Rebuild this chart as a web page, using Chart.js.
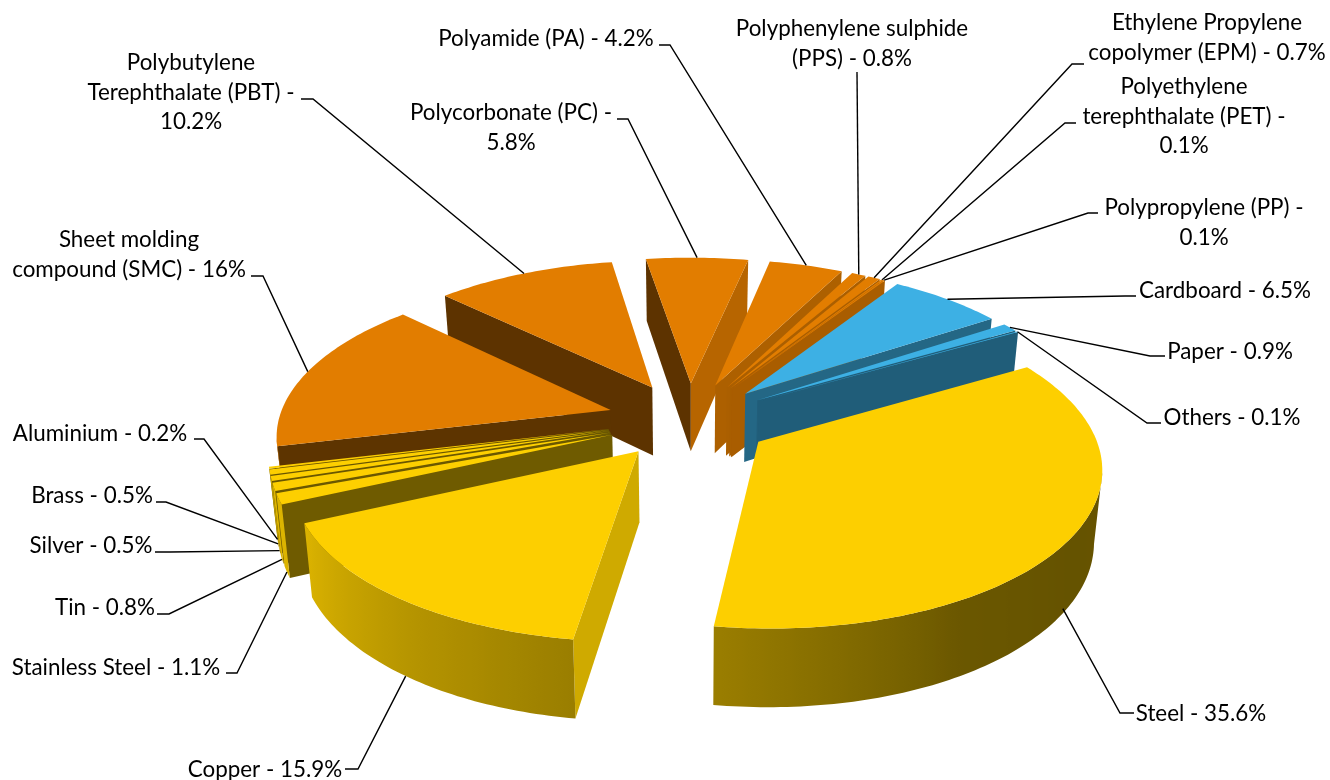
<!DOCTYPE html>
<html>
<head>
<meta charset="utf-8">
<title>Material share</title>
<script src="https://cdn.jsdelivr.net/npm/chart.js@4"></script>
<style>
  html, body { margin: 0; padding: 0; background: #fff; }
  canvas { display: block; }
</style>
</head>
<body>
<canvas id="materialsChart" width="1330" height="780"></canvas>
<script>
// Chart values, clockwise from the steel slice
var categories = ['Steel', 'Copper', 'Stainless Steel', 'Tin', 'Silver', 'Brass', 'Aluminium',
    'Sheet molding compound (SMC)', 'Polybutylene Terephthalate (PBT)', 'Polycorbonate (PC)',
    'Polyamide (PA)', 'Polyphenylene sulphide (PPS)', 'Ethylene Propylene copolymer (EPM)',
    'Polyethylene terephthalate (PET)', 'Polypropylene (PP)', 'Cardboard', 'Paper', 'Others'];
var values = [35.6, 15.9, 1.1, 0.8, 0.5, 0.5, 0.2, 16, 10.2, 5.8, 4.2, 0.8, 0.7, 0.1, 0.1, 6.5, 0.9, 0.1];
var sliceColors = ['#FDCF00', '#FDCF00', '#FDCF00', '#FDCF00', '#FDCF00', '#FDCF00', '#FDCF00',
    '#E27D00', '#E27D00', '#E27D00', '#E27D00', '#E27D00', '#E27D00', '#E27D00', '#E27D00',
    '#3DB0E4', '#3DB0E4', '#3DB0E4'];

// Label layout: word index of each line break, centre x, first line y, leader elbow and label end
var labelBreaks = [[], [], [], [], [], [], [], [2], [1, 4], [3], [], [2], [2], [1, 4], [3], [], [], []];
var labelX = [1201, 265, 116, 105, 91, 92, 100, 129, 191, 511, 546, 852, 1207, 1184, 1204, 1225, 1230, 1232];
var labelY = [714, 770, 668, 608, 546, 496, 434, 240, 63, 113, 39, 29, 23, 87, 208, 291, 352, 418];
var leaderElbows = [[1120, 713], [358, 769], [237, 673], [169, 614], [170, 552], [166, 502], [204, 439],
    [263, 276], [313, 99], [628, 119], [670, 45], [857, 72], [1072, 64], [1065, 123], [1088, 213],
    [1125, 296], [1150, 356], [1147, 423]];
var leaderEnds = [[1134, 713], [345, 769], [226, 673], [157, 614], [155, 552], [156, 502], [194, 439],
    [251, 276], [301, 99], [617, 119], [659, 45], [857, 72], [1084, 64], [1076, 123], [1098, 213],
    [1136, 296], [1165, 356], [1161, 423]];
var leaderDepth = [0.93, 1, 1, 1, 1, 1, 1, 0, 0, 0, 0, 0, 0, 0, 0, 0, 0, 0];

// Perspective settings for the tilted pie
var TILT = 0.462;
var CAMERA = 2325;
var DEPTH = 69.5;
var BOTTOM_SHRINK = 0.02;

// Brightness of the walls by the compass direction they face
var rimShade = [[0, 0.42], [125, 0.40], [150, 0.42], [186, 0.6], [215, 0.72], [245, 0.87], [270, 0.9], [360, 0.9]];
var cutShade = [[0, 0.82], [99, 0.82], [125, 0.74], [147, 0.58], [156, 0.43], [168, 0.41], [360, 0.41]];

function shadeAt(table, deg) {
    deg = ((deg % 360) + 360) % 360;
    for (var i = 1; i < table.length; i++) {
        if (deg <= table[i][0]) {
            var t = (deg - table[i - 1][0]) / (table[i][0] - table[i - 1][0]);
            return table[i - 1][1] + (table[i][1] - table[i - 1][1]) * t;
        }
    }
    return table[table.length - 1][1];
}

function darken(hex, k) {
    var n = parseInt(hex.slice(1), 16);
    return 'rgb(' + Math.round((n >> 16) * k) + ',' + Math.round(((n >> 8) & 255) * k) + ',' + Math.round((n & 255) * k) + ')';
}

// Slice geometry comes from the arc element, only the projection is added here
function sliceGeometry(el) {
    var p = el.getProps(['x', 'y', 'startAngle', 'endAngle', 'outerRadius'], true);
    var mid = (p.startAngle + p.endAngle) / 2;
    var ox = Math.cos(mid) * el.options.offset;
    var oy = Math.sin(mid) * el.options.offset;
    function at(angle, r, z) {
        var u = ox + Math.cos(angle) * r;
        var v = oy + Math.sin(angle) * r;
        var s = CAMERA / (CAMERA - v);
        return {
            x: p.x + u * s * (1 - BOTTOM_SHRINK * z),
            y: p.y + TILT * v * s + DEPTH * Math.pow(s, 0.7) * z
        };
    }
    return { start: p.startAngle, end: p.endAngle, mid: mid, r: p.outerRadius, at: at, depthKey: Math.sin(mid) };
}

function fillPath(ctx, pts, fill) {
    ctx.beginPath();
    ctx.moveTo(pts[0].x, pts[0].y);
    for (var i = 1; i < pts.length; i++) {
        ctx.lineTo(pts[i].x, pts[i].y);
    }
    ctx.closePath();
    ctx.fillStyle = fill;
    ctx.fill();
}

function drawCut(ctx, g, fromApex, angle, color) {
    var a = fromApex ? g.at(0, 0, 0) : g.at(angle, g.r, 0);
    var b = fromApex ? g.at(angle, g.r, 0) : g.at(0, 0, 0);
    // walls only show where the top edge runs right to left on screen
    if (b.x >= a.x) return;
    fillPath(ctx, [g.at(0, 0, 0), g.at(angle, g.r, 0), g.at(angle, g.r, 1), g.at(0, 0, 1)], color);
}

function drawRim(ctx, g, color, steps) {
    var tops = [], bottoms = [], stops = [];
    for (var i = 0; i <= steps; i++) {
        var a = g.start + (g.end - g.start) * i / steps;
        var next = g.at(a + 0.001, g.r, 0);
        var here = g.at(a, g.r, 0);
        if (next.x < here.x) {
            tops.push(here);
            bottoms.unshift(g.at(a, g.r, 1));
            stops.push({ x: here.x, k: shadeAt(rimShade, a * 180 / Math.PI + 90) });
        }
    }
    if (tops.length < 2) return;
    var x0 = stops[stops.length - 1].x, x1 = stops[0].x;
    if (x1 - x0 < 0.5) {
        fillPath(ctx, tops.concat(bottoms), darken(color, stops[0].k));
        return;
    }
    var grad = ctx.createLinearGradient(x0, 0, x1, 0);
    stops.forEach(function (s) {
        grad.addColorStop((s.x - x0) / (x1 - x0), darken(color, s.k));
    });
    fillPath(ctx, tops.concat(bottoms), grad);
}

function drawSlice(ctx, el) {
    var g = sliceGeometry(el);
    var color = el.options.backgroundColor;
    var startDeg = g.start * 180 / Math.PI + 90;
    var endDeg = g.end * 180 / Math.PI + 90;
    var steps = Math.max(2, Math.ceil((g.end - g.start) / (Math.PI / 180)));

    drawCut(ctx, g, true, g.start, darken(color, shadeAt(cutShade, startDeg - 90)));
    drawCut(ctx, g, false, g.end, darken(color, shadeAt(cutShade, endDeg + 90)));
    drawRim(ctx, g, color, steps);

    var top = [g.at(0, 0, 0)];
    for (var j = 0; j <= steps; j++) {
        top.push(g.at(g.start + (g.end - g.start) * j / steps, g.r, 0));
    }
    fillPath(ctx, top, color);
}

function drawLabels(chart) {
    var ctx = chart.ctx;
    var arcs = chart.getDatasetMeta(0).data;
    ctx.save();
    ctx.strokeStyle = '#000';
    ctx.lineWidth = 1.4;
    arcs.forEach(function (el, i) {
        var g = sliceGeometry(el);
        var from = g.at(g.mid, g.r, leaderDepth[i]);
        ctx.beginPath();
        ctx.moveTo(from.x, from.y);
        ctx.lineTo(leaderElbows[i][0], leaderElbows[i][1]);
        ctx.lineTo(leaderEnds[i][0], leaderEnds[i][1]);
        ctx.stroke();
    });
    ctx.fillStyle = '#000';
    ctx.font = '22.4px Lato';
    ctx.textAlign = 'center';
    ctx.textBaseline = 'middle';
    categories.forEach(function (name, i) {
        var words = (name + ' - ' + values[i] + '%').split(' ');
        var cuts = [0].concat(labelBreaks[i], [words.length]);
        for (var k = 0; k < cuts.length - 1; k++) {
            ctx.fillText(words.slice(cuts[k], cuts[k + 1]).join(' '), labelX[i], labelY[i] + k * 29.5);
        }
    });
    ctx.restore();
}

var pie3d = {
    id: 'pie3d',
    beforeDatasetsDraw: function (chart) {
        var arcs = chart.getDatasetMeta(0).data.slice();
        arcs.sort(function (a, b) {
            return sliceGeometry(a).depthKey - sliceGeometry(b).depthKey;
        });
        arcs.forEach(function (el) {
            drawSlice(chart.ctx, el);
        });
        return false;
    },
    afterDraw: function (chart) {
        drawLabels(chart);
    }
};

var ctx = document.getElementById('materialsChart').getContext('2d');

var materialsChart = new Chart(ctx, {
    type: 'pie',
    data: {
        labels: categories,
        datasets: [{
            data: values,
            backgroundColor: sliceColors,
            borderWidth: 0,
            offset: 82
        }]
    },
    options: {
        responsive: false,
        animation: false,
        rotation: 60,
        radius: 332,
        layout: { padding: { left: 48, top: 60 } },
        plugins: {
            legend: { display: false },
            tooltip: { enabled: false }
        }
    },
    plugins: [pie3d]
});
</script>
</body>
</html>
